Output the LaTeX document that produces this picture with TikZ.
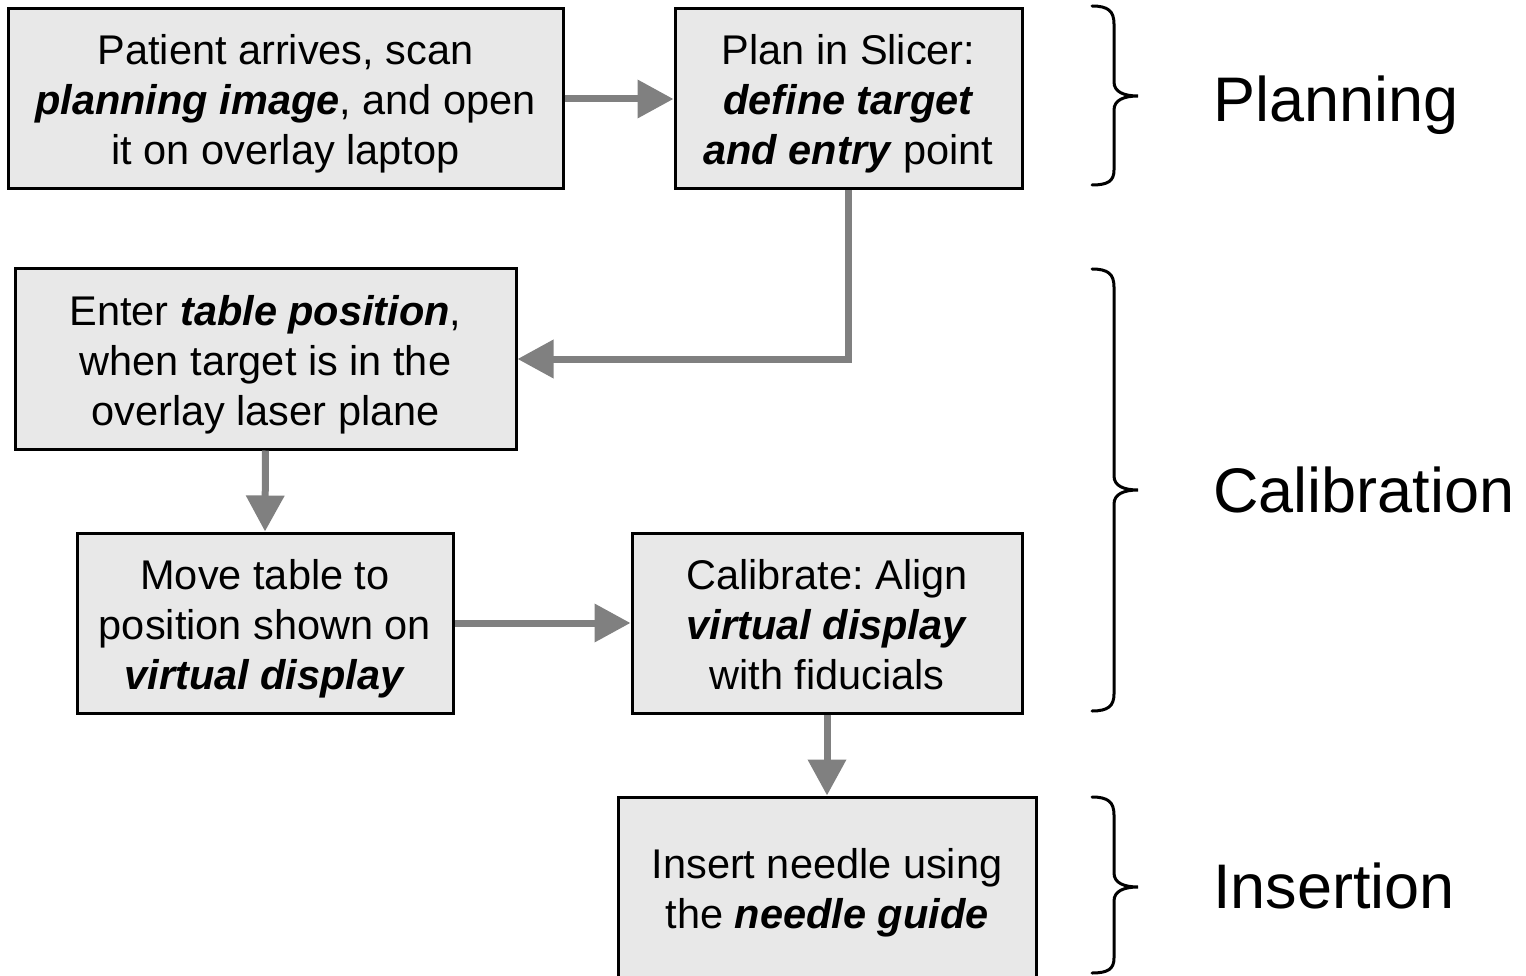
\documentclass[tikz,border=0pt]{standalone}
\usepackage{fontspec}
\setmainfont{Liberation Sans}
\usetikzlibrary{arrows.meta}
\definecolor{boxfill}{HTML}{E8E8E8}
\definecolor{arrgray}{HTML}{808080}
\frenchspacing
\tikzset{
  stepbox/.style={draw=black, line width=3pt, fill=boxfill, inner sep=0pt,
    font=\fontsize{41.5}{50}\selectfont\frenchspacing},
  arr/.style={draw=arrgray, line width=7pt, -{Triangle[length=36pt,width=37pt]}},
  phase/.style={anchor=base west, font=\fontsize{63}{70}\selectfont, inner sep=0pt},
  brace/.style={draw=black, line width=3pt, line cap=round}
}
\newcommand{\bi}[1]{\textbf{\textit{#1}}}
\newcommand{\boxtext}[1]{\raisebox{0pt}[\dimexpr\height+12pt\relax][\depth]{\begin{tabular}{@{}c@{}}#1\end{tabular}}}
\begin{document}
\begin{tikzpicture}[x=1pt,y=-1pt]
\useasboundingbox (0,0) rectangle (1526,976);
\node[stepbox, minimum width=555pt, minimum height=180pt] (b1) at (285.5,99)
  {\boxtext{Patient arrives, scan\\ \bi{planning image}, and open\\ it on overlay laptop}};
\node[stepbox, minimum width=347pt, minimum height=180pt] (b2) at (848.5,99)
  {\boxtext{Plan in Slicer:\\ \bi{define target}\\ \bi{and entry} point}};
\node[stepbox, minimum width=501pt, minimum height=180pt] (b3) at (265.5,359)
  {\boxtext{Enter \bi{table position},\\ when target is in the\\ overlay laser plane}};
\node[stepbox, minimum width=376pt, minimum height=180pt] (b4) at (265,623)
  {\boxtext{Move table to\\ position shown on\\ \bi{virtual display}}};
\node[stepbox, minimum width=390pt, minimum height=180pt] (b5) at (827,623)
  {\boxtext{Calibrate: Align\\ \bi{virtual display}\\ with fiducials}};
\node[stepbox, minimum width=418pt, minimum height=180pt] (b6) at (827,887)
  {\boxtext{Insert needle using\\ the \bi{needle guide}}};

\draw[arr] (b1.east) -- (b2.west);
\draw[arr] (b2.south) |- (b3.east);
\draw[arr] (b3.south) -- (b4.north);
\draw[arr] (b4.east) -- (b5.west);
\draw[arr] (b5.south) -- (b6.north);

% braces
\draw[brace] (1092,6) .. controls (1108,6) and (1114,11) .. (1114,24) -- (1114,82)
  .. controls (1114,92) and (1124,96) .. (1138,96)
  .. controls (1124,96) and (1114,100) .. (1114,110) -- (1114,170)
  .. controls (1114,181) and (1108,185) .. (1092,185);
\draw[brace] (1092,269) .. controls (1108,269) and (1114,274) .. (1114,287) -- (1114,476)
  .. controls (1114,486) and (1124,490) .. (1138,490)
  .. controls (1124,490) and (1114,494) .. (1114,504) -- (1114,694)
  .. controls (1114,706) and (1108,711) .. (1092,711);
\draw[brace] (1092,797) .. controls (1108,797) and (1114,802) .. (1114,815) -- (1114,873)
  .. controls (1114,883) and (1124,887) .. (1138,887)
  .. controls (1124,887) and (1114,891) .. (1114,901) -- (1114,958)
  .. controls (1114,969) and (1108,973) .. (1092,973);

\node[phase] (p1) at (1213,121.5) {Planning};
\node[phase] (p2) at (1213,512.5) {Calibration};
\node[phase] (p3) at (1213,908.5) {Insertion};
\end{tikzpicture}
\end{document}
